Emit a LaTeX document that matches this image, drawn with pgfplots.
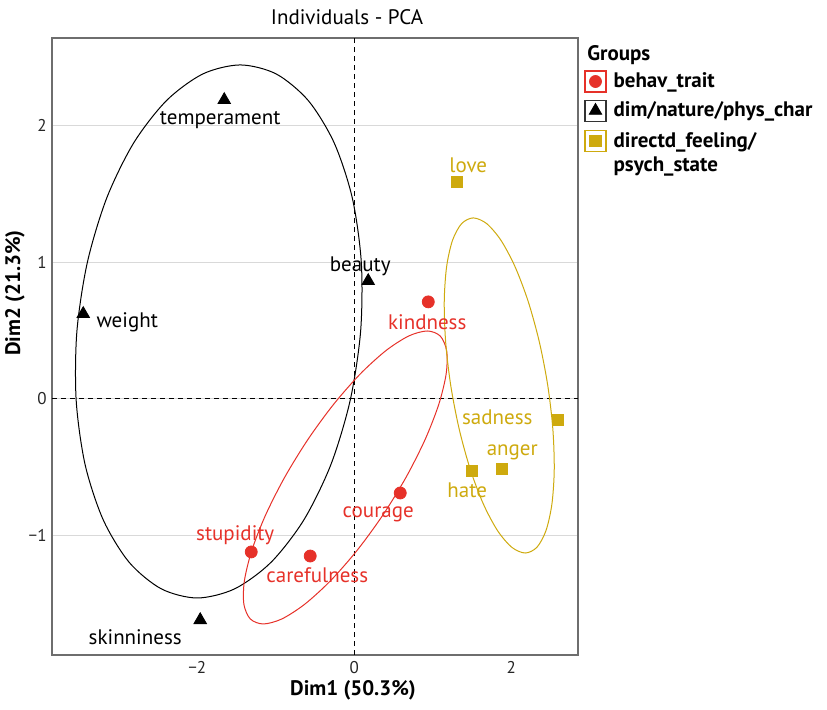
\documentclass[border=0pt]{standalone}
\usepackage{fontspec}
\setmainfont{PT Sans}
\usepackage{pgfplots}
\pgfplotsset{compat=1.18}
\definecolor{redc}{RGB}{230,49,41}
\definecolor{goldc}{RGB}{206,170,14}
\definecolor{axgray}{RGB}{110,110,110}
\newcommand{\lbl}{\fontsize{10.5}{12}\selectfont}
\pgfplotsset{boxleg/.style={legend image code/.code={\draw[#1, line width=0.6pt, fill=white] (-5.25pt,-5.25pt) rectangle (5.25pt,5.25pt); \draw[##1] plot coordinates {(0pt,0pt)};}}}
\begin{document}
\begin{tikzpicture}
\useasboundingbox (0,0) rectangle (413.5pt,354.5pt);
\begin{axis}[
  at={(26pt,27pt)}, anchor=south west, scale only axis,
  width=263pt, height=308.5pt,
  xmin=-3.85, xmax=2.85, ymin=-1.873, ymax=2.64,
  xtick={-2,0,2}, xticklabels={−2,0,2},
  ytick={-1,0,1,2}, yticklabels={−1,0,1,2},
  ymajorgrids, grid style={gray!30, line width=0.5pt},
  axis line style={axgray, line width=0.6pt},
  major tick length=0pt,
  tick label style={font=\fontsize{8.5}{10}\selectfont, text=black!85},
  yticklabel style={anchor=east, inner sep=0pt, xshift=-2.5pt},
  xticklabel style={anchor=north, inner sep=0pt, yshift=-3pt},
  clip=false,
  legend style={draw=none, fill=none, at={(1,1)}, anchor=north west,
    xshift=3pt, yshift=-16pt, inner sep=0pt, row sep=3.5pt,
    nodes={inner sep=1pt, font=\bfseries\lbl}},
  legend cell align=left,
  /tikz/every odd column/.style={column sep=2.5pt},
]
% reference lines
\draw[black, line width=0.5pt, dash pattern=on 2.5pt off 2pt] (axis cs:0,-1.873) -- (axis cs:0,2.64);
\draw[black, line width=0.5pt, dash pattern=on 2.5pt off 2pt] (axis cs:-3.85,0) -- (axis cs:2.85,0);

% behav_trait
\addplot[only marks, mark=*, mark size=3pt, redc, mark options={draw=redc, fill=redc}, boxleg=redc]
  coordinates {(0.943,0.710) (0.586,-0.688) (-1.312,-1.119) (-0.561,-1.149)};
\addlegendentry{behav\_trait}
% dim/nature/phys_char
\addplot[only marks, mark=triangle*, mark size=3.6pt, black, mark options={draw=black, fill=black}, boxleg=black!80]
  coordinates {(-1.656,2.187) (-3.452,0.622) (0.178,0.863) (-1.962,-1.617)};
\addlegendentry{dim/nature/phys\_char}
% directd_feeling/psych_state
\addplot[only marks, mark=square*, mark size=2.8pt, goldc, mark options={draw=goldc, fill=goldc, rounded corners=1pt}, boxleg=goldc]
  coordinates {(1.312,1.587) (2.599,-0.154) (1.885,-0.512) (1.503,-0.527)};
\addlegendentry{\begin{tabular}[t]{@{}l@{}}directd\_feeling/\\psych\_state\end{tabular}}

% confidence ellipses (outline points)
\addplot[black, line width=0.5pt, smooth cycle, forget plot] coordinates {
 (-1.452,2.443) (-0.994,2.377) (-0.585,2.182) (-0.255,1.872) (-0.024,1.468) (0.090,0.998)
 (0.081,0.4935) (-0.052,-0.011) (-0.298,-0.481) (-0.642,-0.885) (-1.060,-1.195) (-1.523,-1.389)
 (-2.000,-1.456) (-2.458,-1.389) (-2.867,-1.195) (-3.197,-0.885) (-3.428,-0.481) (-3.542,-0.011)
 (-3.533,0.4935) (-3.400,0.998) (-3.154,1.468) (-2.810,1.872) (-2.392,2.182) (-1.929,2.377)};
\addplot[redc, line width=0.5pt, smooth cycle, forget plot] coordinates {
 (0.930,0.497) (1.0945,0.4605) (1.1767,0.3534) (1.1708,0.1832) (1.0773,-0.0387) (0.9025,-0.2972)
 (0.6586,-0.5745) (0.3619,-0.8518) (0.0327,-1.1103) (-0.3064,-1.3322) (-0.6325,-1.5024) (-0.9233,-1.6095)
 (-1.159,-1.646) (-1.3235,-1.6095) (-1.4057,-1.5024) (-1.3998,-1.3322) (-1.3063,-1.1103) (-1.1315,-0.8518)
 (-0.8876,-0.5745) (-0.5909,-0.2972) (-0.2617,-0.0387) (0.0774,0.1832) (0.4035,0.3534) (0.6943,0.4605)};
\addplot[goldc, line width=0.5pt, smooth cycle, forget plot] coordinates {
 (1.516,1.324) (1.6872,1.2822) (1.8694,1.1598) (2.0498,0.9651) (2.2166,0.7113) (2.3581,0.4157)
 (2.4649,0.0985) (2.5295,-0.2187) (2.5476,-0.5143) (2.5180,-0.7681) (2.4426,-0.9628) (2.3266,-1.0852)
 (2.178,-1.127) (2.0068,-1.0852) (1.8246,-0.9628) (1.6442,-0.7681) (1.4774,-0.5143) (1.3359,-0.2187)
 (1.2291,0.0985) (1.1645,0.4157) (1.1464,0.7113) (1.1760,0.9651) (1.2514,1.1598) (1.3674,1.2822)};

% point labels
\node[black, font=\lbl] at (axis cs:-1.707,2.041) {temperament};
\node[black, font=\lbl] at (axis cs:-2.892,0.563) {weight};
\node[black, font=\lbl] at (axis cs:0.076,0.973) {beauty};
\node[black, font=\lbl] at (axis cs:-2.79,-1.741) {skinniness};
\node[redc, font=\lbl] at (axis cs:0.930,0.563) {kindness};
\node[redc, font=\lbl] at (axis cs:0.306,-0.841) {courage};
\node[redc, font=\lbl] at (axis cs:-1.516,-0.995) {stupidity};
\node[redc, font=\lbl] at (axis cs:-0.471,-1.287) {carefulness};
\node[goldc, font=\lbl] at (axis cs:1.452,1.712) {love};
\node[goldc, font=\lbl] at (axis cs:1.822,-0.132) {sadness};
\node[goldc, font=\lbl] at (axis cs:2.013,-0.388) {anger};
\node[goldc, font=\lbl] at (axis cs:1.439,-0.666) {hate};
\end{axis}
% title, axis labels, legend title
\node[font=\lbl] at (173.5pt,346pt) {Individuals - PCA};
\node[font=\bfseries\lbl] at (176.5pt,9.5pt) {Dim1 (50.3\%)};
\node[font=\bfseries\lbl, rotate=90] at (7.5pt,208pt) {Dim2 (21.3\%)};
\node[font=\bfseries\lbl, anchor=west, inner sep=0pt] at (293.5pt,327pt) {Groups};
\end{tikzpicture}
\end{document}
